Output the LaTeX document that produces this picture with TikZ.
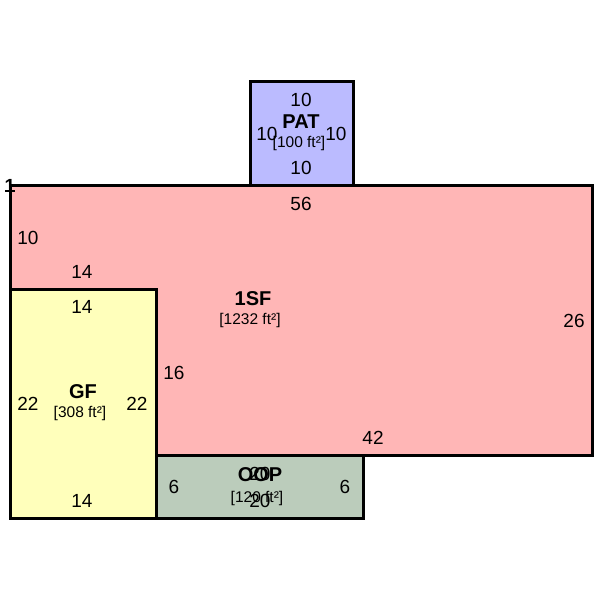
\documentclass[tikz,border=0pt]{standalone}
\usepackage{fontspec}
\setmainfont{Liberation Sans}
\tikzset{
  room/.style={draw=black,line width=3pt},
  dimlabel/.style={inner sep=0pt,font=\fontsize{19}{19}\selectfont},
  roomlabel/.style={inner sep=0pt,font=\fontsize{20}{20}\selectfont\bfseries},
  arealabel/.style={inner sep=0pt,font=\fontsize{15.5}{15.5}\selectfont}
}
\definecolor{sfred}{HTML}{FFB6B6}
\definecolor{gfyellow}{HTML}{FFFFBB}
\definecolor{patblue}{HTML}{BBBBFF}
\definecolor{oopgreen}{HTML}{BBCCBB}
\begin{document}
\begin{tikzpicture}[x=1pt,y=-1pt]
    \useasboundingbox (0,0) rectangle (600,600);

    \filldraw [room,fill=sfred] (10.5,185.5) rectangle (592.5,455.5);
    \filldraw [room,fill=patblue] (250.5,81.5) rectangle (353.5,185.5);
    \filldraw [room,fill=gfyellow] (10.5,289.5) rectangle (156.5,518.5);
    \filldraw [room,fill=oopgreen] (156.5,455.5) rectangle (363.5,518.5);

    % first floor
    \node [dimlabel] (c1) at (10,186) {\textbf{1}};
    \coordinate (tickl) at (5,190.5);
    \coordinate (tickr) at (15,190.5);
    \draw [line width=2pt] (tickl) -- (tickr);
    \node [dimlabel] (s56) at (301,204) {56};
    \node [dimlabel] (s10) at (28,238) {10};
    \node [dimlabel] (s14) at (82,272) {14};
    \node [dimlabel] (s26) at (574,321) {26};
    \node [dimlabel] (s16) at (174,373) {16};
    \node [dimlabel] (s42) at (373,438) {42};
    \node [roomlabel] (sf) at (253,299) {1SF};
    \node [arealabel] (sfa) at (250,320) {[1232 ft²]};

    % patio
    \node [dimlabel] (pt) at (301,100) {10};
    \node [dimlabel] (pl) at (267,134) {10};
    \node [dimlabel] (pr) at (336,134) {10};
    \node [dimlabel] (pb) at (301,168) {10};
    \node [roomlabel] (pat) at (301,122) {PAT};
    \node [arealabel] (pata) at (299,143) {[100 ft²]};

    % garage
    \node [dimlabel] (gt) at (82,307) {14};
    \node [dimlabel] (gl) at (28,404) {22};
    \node [dimlabel] (gr) at (137,404) {22};
    \node [dimlabel] (gb) at (82,501) {14};
    \node [roomlabel] (gf) at (83,392) {GF};
    \node [arealabel] (gfa) at (80,413) {[308 ft²]};

    % open porch
    \node [roomlabel] (oop) at (260,475) {OOP};
    \node [arealabel] (oopa) at (257,498) {[120 ft²]};
    \node [dimlabel] (ot) at (260,474) {20};
    \node [dimlabel] (ob) at (260,501) {20};
    \node [dimlabel] (ol) at (174,487) {6};
    \node [dimlabel] (or) at (345,487) {6};
\end{tikzpicture}
\end{document}
